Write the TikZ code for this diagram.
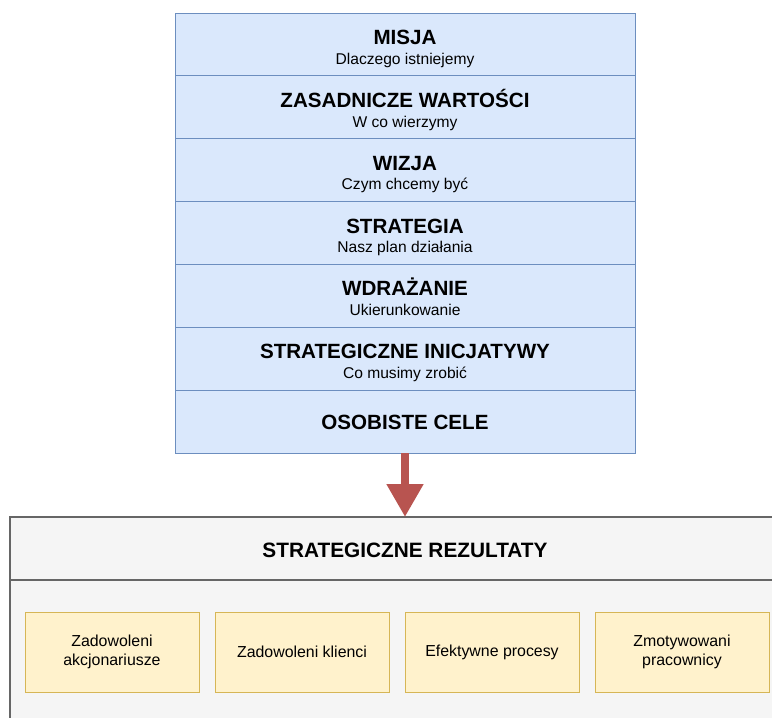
\documentclass[tikz,border=0pt]{standalone}
\usepackage{fontspec}
\setmainfont{Liberation Sans}
\usetikzlibrary{arrows.meta,positioning}
\definecolor{stackfill}{HTML}{DAE8FC}
\definecolor{stackline}{HTML}{6C8EBF}
\definecolor{arrowred}{HTML}{B85450}
\definecolor{groupfill}{HTML}{F5F5F5}
\definecolor{groupline}{HTML}{666666}
\definecolor{goalfill}{HTML}{FFF2CC}
\definecolor{goalline}{HTML}{D6B656}
\tikzset{
  layer/.style={draw=stackline, fill=stackfill, line width=1pt,
    minimum width=460pt, minimum height=62.86pt, inner sep=0pt, outer sep=0pt,
    anchor=north},
  layertitle/.style={anchor=base, inner sep=0pt, font=\fontsize{20.6}{25}\selectfont\bfseries},
  layersub/.style={anchor=base, inner sep=0pt, font=\fontsize{15.6}{19}\selectfont},
  goal/.style={draw=goalline, fill=goalfill, line width=1pt,
    minimum width=174pt, minimum height=80pt, inner sep=2pt, outer sep=0pt,
    align=center, anchor=north west, font=\fontsize{15.9}{19}\selectfont},
  ttl/.style={font=\fontsize{20.8}{25}\selectfont\bfseries},
}
% title on the centre line, subtitle one line below
\newcommand{\layertext}[3]{%
  \node[layertitle] (#1t) at (#1.center) {#2};
  \node[layersub] (#1s) at ([yshift=-19.8pt]#1.center) {#3};}
\begin{document}
\begin{tikzpicture}[x=1pt,y=-1pt]
\useasboundingbox (0,0) rectangle (772,718);
\clip (0,0) rectangle (772,718);

% stacked layers, from mission down to personal goals
\node[layer] (l1) at (405,13) {};
\node[layer] (l2) at (l1.south) {};
\node[layer] (l3) at (l2.south) {};
\node[layer] (l4) at (l3.south) {};
\node[layer] (l5) at (l4.south) {};
\node[layer] (l6) at (l5.south) {};
\node[layer] (l7) at (l6.south) {};
\layertext{l1}{MISJA}{Dlaczego istniejemy}
\layertext{l2}{ZASADNICZE WARTOŚCI}{W co wierzymy}
\layertext{l3}{WIZJA}{Czym chcemy być}
\layertext{l4}{STRATEGIA}{Nasz plan działania}
\layertext{l5}{WDRAŻANIE}{Ukierunkowanie}
\layertext{l6}{STRATEGICZNE INICJATYWY}{Co musimy zrobić}
\node[layertitle] (l7t) at ([yshift=-7.5pt]l7.center) {OSOBISTE CELE};

% results group with header band
\draw[groupline, fill=groupfill, line width=1.2pt] (10,517) rectangle (800,760);
\draw[groupline, line width=1.2pt] (10,580) -- (800,580);
\node[ttl, anchor=center] (res) at (405,550) {STRATEGICZNE REZULTATY};
\coordinate (restop) at (405,517);

\node[goal] (g1) at (25,612) {Zadowoleni\\akcjonariusze};
\node[goal] (g2) at (215,612) {Zadowoleni klienci};
\node[goal] (g3) at (405,612) {Efektywne procesy};
\node[goal] (g4) at (595,612) {Zmotywowani\\pracownicy};

% flow into the results
\draw[arrowred, line width=8pt, -{Triangle[width=35pt,length=33pt]}] (l7.south) -- (restop);
\end{tikzpicture}
\end{document}
